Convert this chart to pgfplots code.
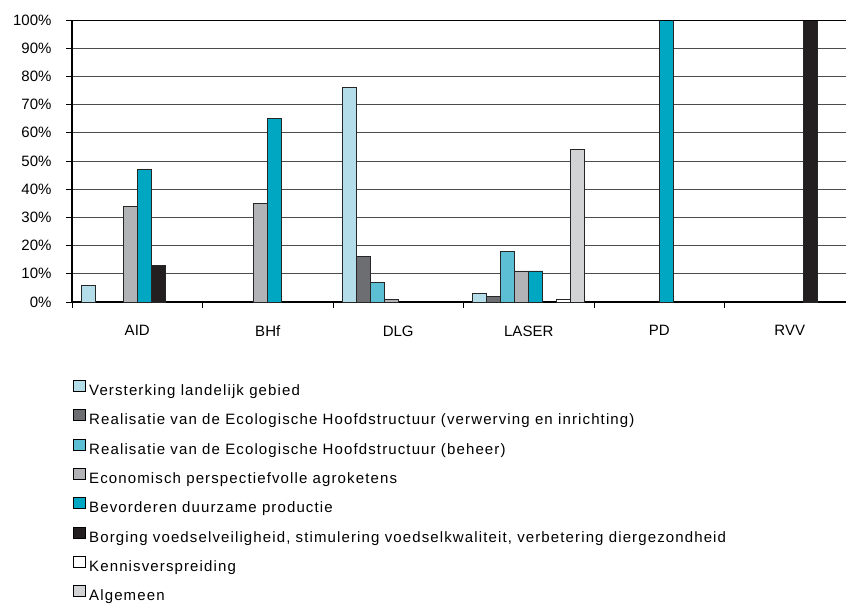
\documentclass[border=0pt]{standalone}
\usepackage{pgfplots}
\pgfplotsset{compat=1.18}
\usepackage{fontspec}
\setmainfont{Liberation Sans}
\newfontfamily\legfont{Liberation Sans}[LetterSpace=7.5]
\definecolor{c1}{HTML}{B3DDE9}
\definecolor{c2}{HTML}{6D6E71}
\definecolor{c3}{HTML}{5CBFD4}
\definecolor{c4}{HTML}{B1B3B6}
\definecolor{c5}{HTML}{00A7C2}
\definecolor{c6}{HTML}{231F20}
\definecolor{c7}{HTML}{FFFFFF}
\definecolor{c8}{HTML}{D1D3D4}
\pgfplotsset{mybox/.style={legend image code/.code={\draw[##1,draw=black,line width=0.7pt] (0pt,0pt) rectangle (12pt,11pt);}}}
\begin{document}
\begin{tikzpicture}[font=\fontsize{15pt}{17pt}\selectfont]
\useasboundingbox (-72pt,-301pt) rectangle (774pt,302pt);
\begin{axis}[
  scale only axis, width=783pt, height=282pt,
  xmin=0, xmax=6, ymin=0, ymax=100,
  ybar=0pt, bar width=14pt,
  axis x line=bottom, axis y line=left,
  axis line style={-, line width=1.8pt},
  xtick={0,1,2,3,4,5,6}, x tick label as interval,
  xticklabels={AID,BHf,DLG,LASER,PD,RVV},
  ytick={0,10,20,30,40,50,60,70,80,90,100},
  yticklabels={0\%,10\%,20\%,30\%,40\%,50\%,60\%,70\%,80\%,90\%,100\%},
  x tick label style={yshift=-14pt},
  y tick label style={xshift=-11pt},
  tick align=outside, major tick length=6pt,
  tick style={black, line width=0.8pt},
  ymajorgrids, grid style={black!70, line width=0.9pt},
  every axis plot post/.append style={mybox, draw=black!85, line width=0.8pt},
  legend cell align=left,
  legend style={at={(axis description cs:0.0013,-0.2766)}, anchor=north west,
    draw=none, fill=none, inner sep=0pt, outer sep=0pt,
    row sep=11pt, column sep=3.5pt, font=\legfont\fontsize{15pt}{17pt}\selectfont,
    nodes={inner sep=0pt, text height=11pt, text depth=3pt}},
]
\addplot[fill=c1] coordinates {(0.5,6) (2.5,76) (3.5,3)};
\addplot[fill=c2] coordinates {(2.5,16) (3.5,2)};
\addplot[fill=c3] coordinates {(2.5,7) (3.5,18)};
\addplot[fill=c4] coordinates {(0.5,34) (1.5,35) (2.5,1) (3.5,11)};
\addplot[fill=c5] coordinates {(0.5,47) (1.5,65) (3.5,11) (4.5,100)};
\addplot[fill=c6] coordinates {(0.5,13) (5.5,100)};
\addplot[fill=c7] coordinates {(3.5,1)};
\addplot[fill=c8] coordinates {(3.5,54)};
\addlegendentry{Versterking landelijk gebied}
\addlegendentry{Realisatie van de Ecologische Hoofdstructuur (verwerving en inrichting)}
\addlegendentry{Realisatie van de Ecologische Hoofdstructuur (beheer)}
\addlegendentry{Economisch perspectiefvolle agroketens}
\addlegendentry{Bevorderen duurzame productie}
\addlegendentry{Borging voedselveiligheid, stimulering voedselkwaliteit, verbetering diergezondheid}
\addlegendentry{Kennisverspreiding}
\addlegendentry{Algemeen}
\draw[line width=1.8pt] (axis cs:0,100) -- (axis cs:6,100);
\end{axis}
\end{tikzpicture}
\end{document}
